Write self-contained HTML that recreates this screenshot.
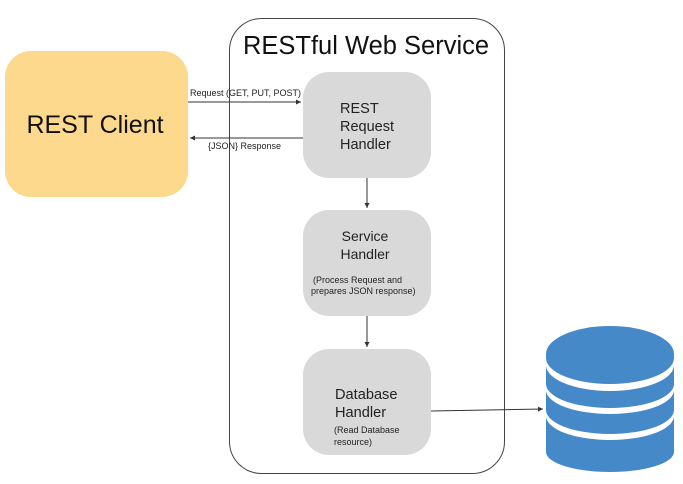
<!DOCTYPE html>
<html><head><style>
body{margin:0;background:#fff;}
svg{display:block;font-family:"Liberation Sans",Arial,sans-serif;}
</style></head><body>
<svg width="683" height="484" viewBox="0 0 683 484">
<defs><marker id="a" markerWidth="6" markerHeight="6" refX="5" refY="3" orient="auto"><path d="M0,0.5 L5,3 L0,5.5z" fill="#333"/></marker></defs>
<rect x="5" y="51" width="183" height="146" rx="26" fill="#fcd98c"/>
<text x="95" y="133" font-size="25" text-anchor="middle" fill="#111">REST Client</text>
<rect x="229.5" y="18.5" width="275" height="455" rx="32" fill="none" stroke="#444" stroke-width="1"/>
<text x="366" y="54" font-size="25.5" text-anchor="middle" fill="#111">RESTful Web Service</text>
<rect x="303" y="72" width="128" height="106" rx="26" fill="#d9d9d9"/>
<text x="340" y="113" font-size="14.5" fill="#222">REST</text>
<text x="340" y="131" font-size="14.5" fill="#222">Request</text>
<text x="340" y="149" font-size="14.5" fill="#222">Handler</text>
<rect x="303" y="210" width="128" height="106" rx="26" fill="#d9d9d9"/>
<text x="365" y="241" font-size="14" text-anchor="middle" fill="#222">Service</text>
<text x="365" y="259" font-size="14" text-anchor="middle" fill="#222">Handler</text>
<text x="313" y="283" font-size="9" fill="#222">(Process Request and</text>
<text x="311" y="294" font-size="9" fill="#222">prepares JSON response)</text>
<rect x="303" y="349" width="128" height="106" rx="26" fill="#d9d9d9"/>
<text x="335" y="399" font-size="14.6" fill="#222">Database</text>
<text x="335" y="417" font-size="14.6" fill="#222">Handler</text>
<text x="334" y="433" font-size="9" fill="#222">(Read Database</text>
<text x="334" y="445" font-size="9" fill="#222">resource)</text>
<line x1="188" y1="102" x2="301" y2="102" stroke="#333" stroke-width="1" marker-end="url(#a)"/>
<text x="190" y="96" font-size="9" fill="#222">Request (GET, PUT, POST)</text>
<line x1="303" y1="138" x2="190" y2="138" stroke="#333" stroke-width="1" marker-end="url(#a)"/>
<text x="208" y="149" font-size="9" fill="#222">{JSON} Response</text>
<line x1="367" y1="178" x2="367" y2="208" stroke="#333" stroke-width="1" marker-end="url(#a)"/>
<line x1="367" y1="316" x2="367" y2="347" stroke="#333" stroke-width="1" marker-end="url(#a)"/>
<line x1="431" y1="411" x2="543" y2="409" stroke="#333" stroke-width="1" marker-end="url(#a)"/>
<g fill="#4589c8">
<rect x="546" y="354" width="128" height="98"/>
<ellipse cx="610" cy="452" rx="64" ry="20"/>
<ellipse cx="610" cy="354" rx="64" ry="28"/>
</g>
<g fill="#fff">
<path d="M546,358 A64,26 0 0 0 674,358 L674,365 A64,26 0 0 1 546,365 Z"/>
<path d="M546,384 A64,24 0 0 0 674,384 L674,390 A64,24 0 0 1 546,390 Z"/>
<path d="M546,410 A64,24 0 0 0 674,410 L674,416 A64,24 0 0 1 546,416 Z"/>
</g>
</svg>
</body></html>
